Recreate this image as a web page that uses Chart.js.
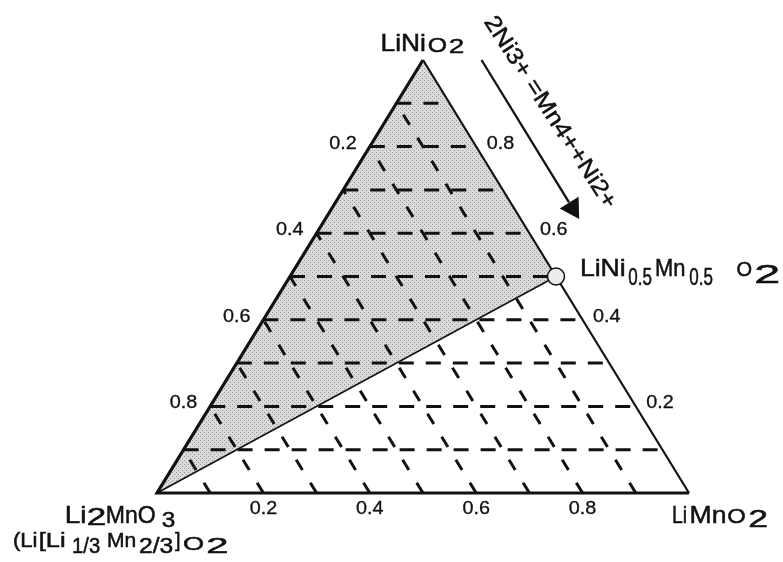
<!DOCTYPE html>
<html>
<head>
<meta charset="utf-8">
<script src="https://cdn.jsdelivr.net/npm/chart.js@4.4.1/dist/chart.umd.min.js"></script>
<style>
  html, body { margin: 0; padding: 0; background: #fff; }
  canvas { display: block; }
</style>
</head>
<body>
<canvas id="c" width="783" height="562"></canvas>
<script>
// Ternary diagram LiNiO2 – Li2MnO3 – LiMnO2
// Compositions are written as [LiNiO2, Li2MnO3, LiMnO2] fractions.
const gridFractions = [0.1, 0.2, 0.3, 0.4, 0.5, 0.6, 0.7, 0.8, 0.9];
const leftTicks = [0.2, 0.4, 0.6, 0.8];    // Li2MnO3 fraction, left edge
const rightTicks = [0.8, 0.6, 0.4, 0.2];   // LiNiO2 fraction, right edge
const bottomTicks = [0.2, 0.4, 0.6, 0.8];  // LiMnO2 fraction, base
const vertexNi = [1, 0, 0];       // LiNiO2
const vertexLi2Mn = [0, 1, 0];    // Li2MnO3
const vertexMn = [0, 0, 1];       // LiMnO2
const midComposition = [0.5, 0, 0.5];  // LiNi0.5Mn0.5O2
const arrowRange = [1.0, 0.63];   // LiNiO2 fraction at the arrow start and tip
const arrowText = '2Ni3+ =Mn4++Ni2+';

// ternary -> plane (base on y = 0, apex at y = 1)
const toXY = ([a, b, c]) => ({ x: c + a / 2, y: a });
const ARROW_SHIFT = 0.11;
const arrowPoint = a => ({ x: 1 - a / 2 + ARROW_SHIFT, y: a });

const FONT = '"Liberation Sans", Arial, Helvetica, sans-serif';
const INK = '#111';

function stipple(base, dot) {
  const c = document.createElement('canvas');
  c.width = 4; c.height = 4;
  const g = c.getContext('2d');
  g.fillStyle = base; g.fillRect(0, 0, 4, 4);
  g.fillStyle = dot; g.fillRect(0, 0, 1, 1); g.fillRect(2, 2, 1, 1);
  return g.createPattern(c, 'repeat');
}

function line(points, width, dash, order, extra) {
  return Object.assign({
    data: points, showLine: true, borderColor: INK, borderWidth: width,
    borderDash: dash || [], pointRadius: 0, fill: false, order: order,
    borderCapStyle: 'butt', borderJoinStyle: 'miter', tension: 0
  }, extra || {});
}

const datasets = [];

// shaded region Li2MnO3 – LiNiO2 – LiNi0.5Mn0.5O2
datasets.push(line([toXY(vertexNi), toXY(vertexLi2Mn), toXY(midComposition), toXY(vertexNi)], 0, null, 10,
  { fill: 'shape', backgroundColor: stipple('#dadada', '#969696'), borderColor: 'rgba(0,0,0,0)' }));

// constant LiNiO2 grid lines
gridFractions.forEach(a => {
  datasets.push(line([toXY([a, 1 - a, 0]), toXY([a, 0, 1 - a])], 3, [15, 12], 5));
});
// constant Li2MnO3 grid lines
gridFractions.forEach(b => {
  datasets.push(line([toXY([0, b, 1 - b]), toXY([1 - b, b, 0])], 3, [12, 15], 5));
});

// triangle outline and tie line
datasets.push(line([toXY(vertexNi), toXY(vertexLi2Mn), toXY(vertexMn)], 3.2, null, 2));
datasets.push(line([toXY(vertexNi), toXY(vertexMn)], 2.2, null, 2));
datasets.push(line([toXY(vertexLi2Mn), toXY(midComposition)], 1.6, null, 2));

// arrow along the LiNiO2 – LiNi0.5Mn0.5O2 edge
datasets.push(line([arrowPoint(arrowRange[0]), arrowPoint(arrowRange[1] + 0.041)], 2.3, null, 1));
datasets.push({
  data: [arrowPoint(arrowRange[1] + 0.028)], showLine: false, pointStyle: 'triangle',
  pointRadius: 12.8, pointRotation: 148.6, pointBackgroundColor: INK, pointBorderWidth: 0, order: 1
});

// LiNi0.5Mn0.5O2 marker
datasets.push({
  data: [toXY(midComposition)], showLine: false, pointStyle: 'circle', pointRadius: 8.5,
  pointBackgroundColor: '#ececec', pointBorderColor: INK, pointBorderWidth: 1.5, order: 0
});

// text helpers
function fitText(ctx, text, size, x0, x1, base) {
  ctx.font = size + 'px ' + FONT;
  ctx.textAlign = 'left';
  ctx.textBaseline = 'alphabetic';
  const m = ctx.measureText(text);
  const ink = m.actualBoundingBoxLeft + m.actualBoundingBoxRight;
  const sx = (x1 - x0) / ink;
  ctx.save();
  ctx.translate(x0, base);
  ctx.scale(sx, 1);
  ctx.fillText(text, m.actualBoundingBoxLeft, 0);
  ctx.lineWidth = 0.5;
  ctx.strokeText(text, m.actualBoundingBoxLeft, 0);
  ctx.restore();
}
function scaledText(ctx, text, size, x, y, align, sx) {
  ctx.font = size + 'px ' + FONT;
  ctx.textAlign = align;
  ctx.textBaseline = 'middle';
  ctx.save();
  ctx.translate(x, y);
  ctx.scale(sx, 1);
  ctx.fillText(text, 0, 0);
  ctx.lineWidth = 0.3;
  ctx.strokeText(text, 0, 0);
  ctx.restore();
}

// formula pieces: [text, size, left, right, baseline] relative to the anchor point
const formulaNi = [['LiNi', 24, -41.3, 1.5, -9.3], ['O', 21, 6, 23.7, -8], ['2', 21, 27, 40.3, -6.7]];
const formulaMid = [['LiNi', 24, 25, 68.3, -0.3], ['0.5', 24, 72.3, 95.7, 8], ['Mn', 24, 100, 128.3, -0.3],
  ['0.5', 24, 133.3, 156.7, 8], ['O', 20, 180.5, 195.5, -1], ['2', 26, 200, 223.3, 6]];
const formulaLi2Mn = [['Li', 24, -91, -72, 29.7], ['2', 23, -68.7, -52, 32], ['MnO', 24, -50.3, -2, 29.7],
  ['3', 22, 4.7, 18, 33.7],
  ['(Li', 20, -143, -120, 53.7], ['[Li', 20, -117, -92, 53.7], ['1/3', 22, -84, -57, 60],
  ['Mn', 20, -49, -22, 54], ['2/3', 22, -17, 16, 60], [']', 20, 18, 23, 54], ['O', 19, 26, 46, 57],
  ['2', 22, 51, 71, 60]];
const formulaMn = [['Li', 24, -16.3, -3, 29.7], ['Mn', 24, 1.7, 36, 29.7], ['O', 21, 39.5, 56.5, 30.3],
  ['2', 23, 60.7, 77.7, 33.7]];

const labelsPlugin = {
  id: 'ternaryLabels',
  afterDatasetsDraw(chart) {
    const { ctx, scales: { x, y } } = chart;
    const px = comp => { const p = toXY(comp); return [x.getPixelForValue(p.x), y.getPixelForValue(p.y)]; };
    ctx.save();
    ctx.fillStyle = INK;
    ctx.strokeStyle = INK;

    const drawFormula = (pieces, anchor) => {
      const [ax, ay] = px(anchor);
      pieces.forEach(([t, s, l, r, b]) => fitText(ctx, t, s, ax + l, ax + r, ay + b));
    };
    drawFormula(formulaNi, vertexNi);
    drawFormula(formulaMid, midComposition);
    drawFormula(formulaLi2Mn, vertexLi2Mn);
    drawFormula(formulaMn, vertexMn);

    // tick labels
    leftTicks.forEach(b => {
      const [tx, ty] = px([1 - b, b, 0]);
      scaledText(ctx, b.toFixed(1), 18, tx - 13, ty - 3, 'right', 1.1);
    });
    rightTicks.forEach(a => {
      const [tx, ty] = px([a, 0, 1 - a]);
      scaledText(ctx, a.toFixed(1), 18, tx + 10.5, ty - 3, 'left', 1.1);
    });
    bottomTicks.forEach(c => {
      const [tx, ty] = px([0, 1 - c, c]);
      scaledText(ctx, c.toFixed(1), 18, tx, ty + 16, 'center', 1.1);
    });

    // reaction label along the arrow
    const p0 = arrowPoint(arrowRange[0]);
    const sx0 = x.getPixelForValue(p0.x), sy0 = y.getPixelForValue(p0.y);
    ctx.save();
    ctx.translate(sx0 + 9.3, sy0 - 41.6);
    ctx.rotate(57 * Math.PI / 180);
    fitText(ctx, arrowText, 23, 0, 223, 8);
    ctx.restore();

    ctx.restore();
  }
};

const xMin = -157 / 532, xMax = (783 - 157) / 532;
const yMax = 493 / 433, yMin = (493 - 562) / 433;

new Chart(document.getElementById('c'), {
  type: 'scatter',
  data: { datasets },
  options: {
    responsive: false,
    animation: false,
    events: [],
    layout: { padding: 0, autoPadding: false },
    plugins: { legend: { display: false }, tooltip: { enabled: false } },
    scales: {
      x: { type: 'linear', min: xMin, max: xMax, display: false },
      y: { type: 'linear', min: yMin, max: yMax, display: false }
    }
  },
  plugins: [labelsPlugin]
});
</script>
</body>
</html>
